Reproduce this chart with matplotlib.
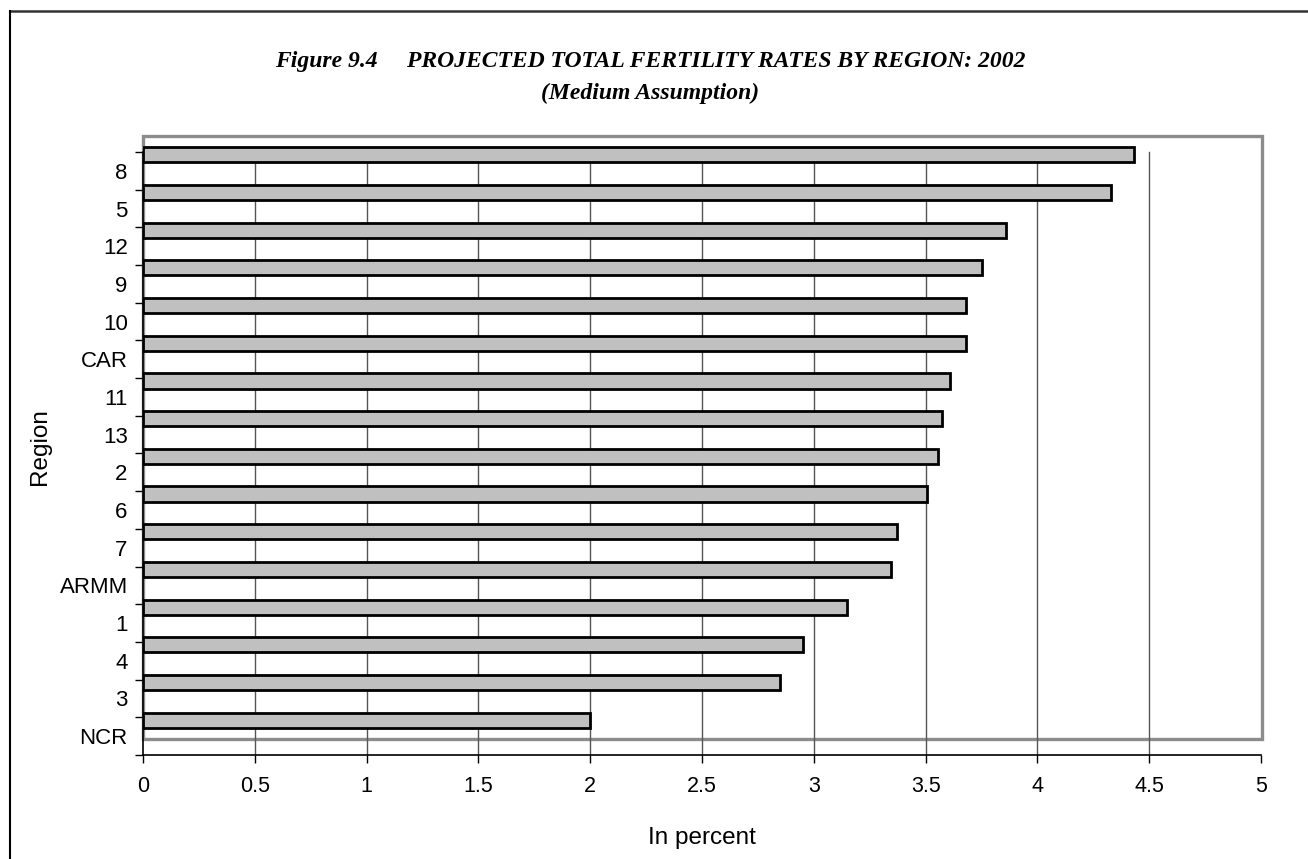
import matplotlib.pyplot as plt
from matplotlib.lines import Line2D
from matplotlib.patches import Rectangle

# ================= DATA =================
REGIONS = ["8", "5", "12", "9", "10", "CAR", "11", "13",
           "2", "6", "7", "ARMM", "1", "4", "3", "NCR"]
TFR = [4.43, 4.33, 3.86, 3.75, 3.68, 3.68, 3.61, 3.575,
       3.555, 3.505, 3.37, 3.345, 3.15, 2.95, 2.85, 2.00]
X_TICKS = [0, 0.5, 1, 1.5, 2, 2.5, 3, 3.5, 4, 4.5, 5]
X_TICK_LABELS = ["0", "0.5", "1", "1.5", "2", "2.5", "3", "3.5", "4", "4.5", "5"]
TITLE_LINE1 = "Figure 9.4     PROJECTED TOTAL FERTILITY RATES BY REGION: 2002"
TITLE_LINE2 = "(Medium Assumption)"
# ========================================

W, H = 1308, 859
n = len(REGIONS)
depth = 16 / 37.69  # 3-D depth shift of the back wall, in category units

fig = plt.figure(figsize=(W / 100, H / 100), dpi=100)
ax = fig.add_axes([143 / W, (H - 755) / H, (1262 - 143) / W, (755 - 136) / H])
ax.set_xlim(0, 5.004)
ax.set_ylim(0, n + depth)
for s in ax.spines.values():
    s.set_visible(False)

# back wall
ax.add_patch(Rectangle((0, depth), 5.004, n, fill=False, edgecolor="#8c8c8c",
                       lw=2.4, zorder=1, clip_on=False))

# gridlines
for xv in X_TICKS[1:-1]:
    ax.plot([xv, xv], [0, n], color="#555555", lw=1.0, zorder=1.5)

# bars (drawn on the back plane)
y_front = [n - k - 0.5 for k in range(n)]
y_bar = [y + depth for y in y_front]
ax.barh(y_bar, TFR, height=0.40, color="#c0c0c0", edgecolor="black",
        linewidth=2.0, zorder=3)

# front axes lines
ax.plot([0, 5], [0, 0], color="black", lw=1.2, zorder=4, clip_on=False)
ax.plot([0, 0], [0, n], color="black", lw=1.2, zorder=4, clip_on=False)

ax.set_xticks(X_TICKS)
ax.set_xticklabels(X_TICK_LABELS, fontsize=15.5, family="Liberation Sans")
ax.tick_params(axis="x", direction="out", length=5.5, width=1.0, pad=9.5)

ax.set_yticks(list(range(n + 1)))
ax.set_yticklabels([])
ax.set_yticks(y_front, minor=True)
ax.set_yticklabels(REGIONS, minor=True, fontsize=16, family="Liberation Sans")
ax.tick_params(axis="y", which="major", direction="out", length=6, width=1.0)
ax.tick_params(axis="y", which="minor", length=0, pad=11)

fig.text(40 / W, 1 - 447 / H, "Region", rotation=90, ha="center", va="center",
         fontsize=17.5, family="Liberation Sans")
fig.text(702 / W, 1 - 838 / H, "In percent", ha="center", va="center",
         fontsize=17.5, family="Liberation Sans")

fig.text(650 / W, 1 - 62 / H, TITLE_LINE1, ha="center", va="center",
         fontsize=17, family="Liberation Serif", weight="bold", style="italic")
fig.text(650 / W, 1 - 93 / H, TITLE_LINE2, ha="center", va="center",
         fontsize=17, family="Liberation Serif", weight="bold", style="italic")

# outer chart border (top and left visible)
fig.add_artist(Line2D([10 / W, 1], [1 - 11 / H, 1 - 11 / H], color="#333333",
                      lw=1.8, transform=fig.transFigure))
fig.add_artist(Line2D([10 / W, 10 / W], [0, 1 - 11 / H], color="black",
                      lw=1.5, transform=fig.transFigure))

fig.savefig("out.png", dpi=100)
